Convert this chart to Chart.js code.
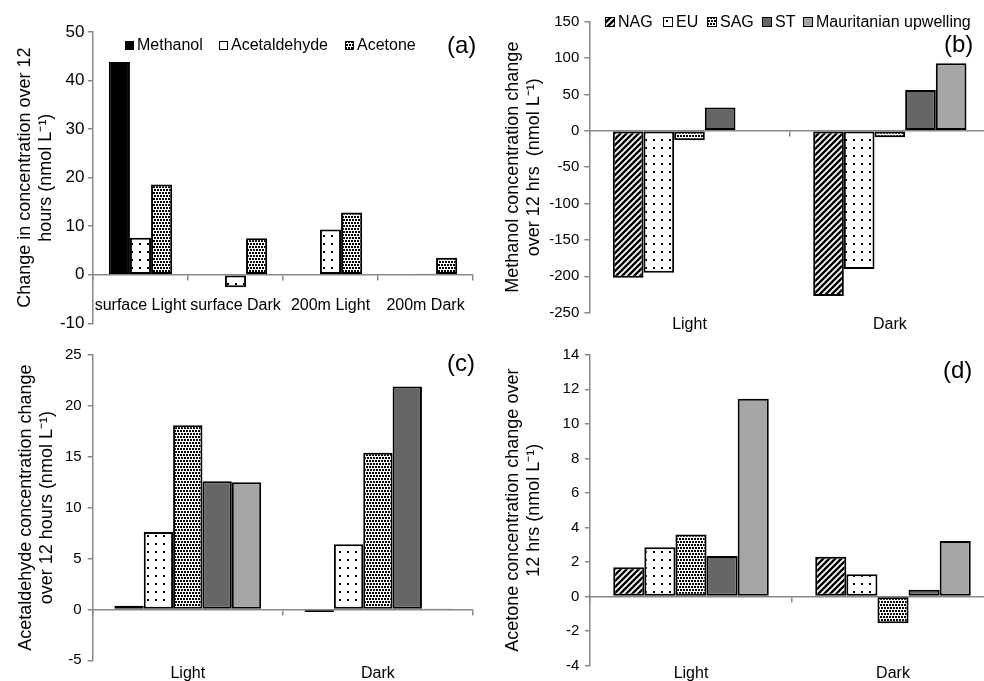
<!DOCTYPE html>
<html>
<head>
<meta charset="utf-8">
<script src="https://cdn.jsdelivr.net/npm/chart.js@4.4.0/dist/chart.umd.min.js"></script>
<style>
html, body { margin: 0; padding: 0; background: #fff; overflow: hidden; }
#page { position: relative; width: 984px; height: 681px; overflow: hidden; font-family: "Liberation Sans", Arial, sans-serif; }
#page canvas { position: absolute; }
.lg { position: absolute; font-size: 16px; line-height: 18px; height: 18px; white-space: nowrap; color: #000; }
.tag { position: absolute; font-size: 24px; line-height: 28px; color: #000; }
</style>
</head>
<body>
<div id="page">
  <canvas id="chartA" width="490" height="340" style="left:0;top:0"></canvas>
  <canvas id="chartB" width="510" height="340" style="left:490px;top:0"></canvas>
  <canvas id="chartC" width="490" height="341" style="left:0;top:340px"></canvas>
  <canvas id="chartD" width="510" height="341" style="left:490px;top:340px"></canvas>
</div>
<script>
// panel (a)
const depthCategories = ["surface Light", "surface Dark", "200m Light", "200m Dark"];
const methanolDepth = [43.8, 0, 0, 0];
const acetaldehydeDepth = [7.6, -2.6, 9.3, 0.2];
const acetoneDepth = [18.6, 7.5, 12.8, 3.5];

// panels (b)-(d), values per site in order NAG, EU, SAG, ST, Mauritanian upwelling
const lightDark = ["Light", "Dark"];
const sites = ["NAG", "EU", "SAG", "ST", "Mauritanian upwelling"];
const methanolLight = [-202, -195, -13, 32, 1];
const methanolDark = [-227, -190, -9, 56, 93];
const acetaldehydeLight = [0.35, 7.6, 18.1, 12.6, 12.5];
const acetaldehydeDark = [-0.25, 6.4, 15.4, 21.9, 0.1];
const acetoneLight = [1.7, 2.85, 3.6, 2.35, 11.45];
const acetoneDark = [2.3, 1.3, -1.55, 0.4, 3.22];

// y axis ranges: [min, max, step]
const yRangeA = [-10, 50, 10];
const yRangeB = [-250, 150, 50];
const yRangeC = [-5, 25, 5];
const yRangeD = [-4, 14, 2];

const FONT = "'Liberation Sans', Arial, sans-serif";
const AXIS_GREY = "#888";

function makePattern(kind) {
    const c = document.createElement("canvas");
    const g = c.getContext("2d");
    if (kind === "hatch") {
        c.width = 6; c.height = 6;
        g.fillStyle = "#fff"; g.fillRect(0, 0, 6, 6);
        g.strokeStyle = "#000"; g.lineWidth = 2.4;
        g.beginPath();
        g.moveTo(-1, 7); g.lineTo(7, -1);
        g.moveTo(-2, 2); g.lineTo(2, -2);
        g.moveTo(4, 8); g.lineTo(8, 4);
        g.stroke();
    } else if (kind === "sparse") {
        c.width = 8; c.height = 8;
        g.fillStyle = "#fff"; g.fillRect(0, 0, 8, 8);
        g.fillStyle = "#000"; g.fillRect(3, 3, 2, 2);
    } else {
        c.width = 6; c.height = 6;
        g.fillStyle = "#fff"; g.fillRect(0, 0, 6, 6);
        g.fillStyle = "#000";
        g.fillRect(0, 0, 2, 2); g.fillRect(3, 0, 2, 2);
        g.fillRect(1, 3, 2, 2); g.fillRect(4, 3, 2, 2);
    }
    return g.createPattern(c, "repeat");
}

const hatch = makePattern("hatch");
const sparseDots = makePattern("sparse");
const denseDots = makePattern("dense");
const siteFills = [hatch, sparseDots, denseDots, "#666666", "#a6a6a6"];

function siteDatasets(light, dark) {
    return sites.map((s, i) => ({
        label: s,
        data: [light[i], dark[i]],
        backgroundColor: siteFills[i]
    }));
}

function buildChart(id, labels, datasets, cfg) {
    const scales = {};
    if (cfg.zeroLabels) {
        scales.x = {
            type: "category",
            position: { y: 0 },
            offset: true,
            grid: { offset: true, drawOnChartArea: false, tickLength: 5, color: AXIS_GREY, lineWidth: 1.5 },
            border: { color: AXIS_GREY, width: 1.5 },
            ticks: { color: "#000", font: { size: 16, family: FONT }, padding: cfg.labelPad, maxRotation: 0, autoSkip: false }
        };
    } else {
        scales.x = {
            type: "category",
            position: "bottom",
            offset: true,
            grid: { display: false, drawTicks: false },
            border: { display: false },
            ticks: { color: "#000", font: { size: 16, family: FONT }, padding: cfg.labelPad, maxRotation: 0, autoSkip: false },
            afterFit: s => { s.height = cfg.xHeight; }
        };
        scales.x2 = {
            type: "category",
            axis: "x",
            position: { y: 0 },
            offset: true,
            grid: { offset: true, drawOnChartArea: false, tickLength: 5, color: AXIS_GREY, lineWidth: 1.5 },
            border: { color: AXIS_GREY, width: 1.5 },
            ticks: { display: false }
        };
    }
    scales.y = {
        type: "linear",
        position: "left",
        min: cfg.range[0],
        max: cfg.range[1],
        ticks: { stepSize: cfg.range[2], color: "#000", font: { size: cfg.tickSize, family: FONT }, padding: cfg.tickPad },
        grid: { drawOnChartArea: false, tickLength: 5, color: AXIS_GREY, lineWidth: 1.5 },
        border: { color: AXIS_GREY, width: 1.5 },
        title: {
            display: true,
            text: cfg.title,
            color: "#000",
            font: { size: 18, family: FONT, lineHeight: 1.15 },
            padding: { top: cfg.titlePad, bottom: 0 }
        },
        afterFit: s => { s.width = cfg.yWidth; }
    };

    return new Chart(document.getElementById(id), {
        type: "bar",
        data: { labels: labels, datasets: datasets },
        options: {
            responsive: false,
            animation: false,
            layout: { padding: cfg.pad },
            datasets: {
                bar: {
                    xAxisID: "x",
                    barPercentage: 1,
                    categoryPercentage: cfg.catPct,
                    borderColor: "#000",
                    borderWidth: 2,
                    borderSkipped: false
                }
            },
            plugins: { legend: { display: false }, tooltip: { enabled: false } },
            scales: scales
        }
    });
}

buildChart("chartA", depthCategories, [
    { label: "Methanol", data: methanolDepth, backgroundColor: "#000" },
    { label: "Acetaldehyde", data: acetaldehydeDepth, backgroundColor: sparseDots },
    { label: "Acetone", data: acetoneDepth, backgroundColor: denseDots }
], {
    zeroLabels: true, labelPad: 16.4, range: yRangeA, tickSize: 17, tickPad: 3.5,
    title: ["Change in concentration over 12", "hours (nmol L\u207B\u00B9)"], titlePad: 14.5,
    yWidth: 93, pad: { top: 32, right: 17, bottom: 16.7, left: 0 }, catPct: 0.667
});

buildChart("chartB", lightDark, siteDatasets(methanolLight, methanolDark), {
    zeroLabels: false, labelPad: 2.7, xHeight: 27.3, range: yRangeB, tickSize: 15, tickPad: 5,
    title: ["Methanol concentration change", "over 12 hrs  (nmol L\u207B\u00B9)"], titlePad: 12.5,
    yWidth: 99.3, pad: { top: 21.7, right: 10, bottom: 0, left: 0 }, catPct: 0.765
});

buildChart("chartC", lightDark, siteDatasets(acetaldehydeLight, acetaldehydeDark), {
    zeroLabels: false, labelPad: 3.4, xHeight: 20.7, range: yRangeC, tickSize: 15, tickPad: 6,
    title: ["Acetaldehyde concentration change", "over 12 hours (nmol L\u207B\u00B9)"], titlePad: 15.6,
    yWidth: 92.7, pad: { top: 15, right: 17, bottom: 0, left: 0 }, catPct: 0.772
});

buildChart("chartD", lightDark, siteDatasets(acetoneLight, acetoneDark), {
    zeroLabels: false, labelPad: -2, xHeight: 15.3, range: yRangeD, tickSize: 15, tickPad: 5.7,
    title: ["Acetone concentration change over", "12 hrs (nmol L\u207B\u00B9)"], titlePad: 12.6,
    yWidth: 100, pad: { top: 9, right: 6, bottom: 0, left: 0 }, catPct: 0.77
});

// legends and panel letters
const page = document.getElementById("page");

function legendItem(x, yc, size, fill, text) {
    const sw = document.createElement("canvas");
    sw.width = size; sw.height = size;
    sw.style.left = x + "px";
    sw.style.top = (yc - size / 2) + "px";
    const g = sw.getContext("2d");
    g.fillStyle = fill; g.fillRect(0, 0, size, size);
    g.strokeStyle = "#000"; g.lineWidth = 1; g.strokeRect(0.5, 0.5, size - 1, size - 1);
    page.appendChild(sw);
    const t = document.createElement("div");
    t.className = "lg";
    t.textContent = text;
    t.style.left = (x + size + 3) + "px";
    t.style.top = (yc - 9) + "px";
    page.appendChild(t);
}

function tag(x, yc, text) {
    const d = document.createElement("div");
    d.className = "tag";
    d.textContent = text;
    d.style.left = x + "px";
    d.style.top = (yc - 14) + "px";
    page.appendChild(d);
}

legendItem(125, 45, 9, "#000", "Methanol");
legendItem(219, 45, 9, "#fff", "Acetaldehyde");
legendItem(345, 45, 9, denseDots, "Acetone");

const legendXB = [605, 663, 707, 762, 803];
sites.forEach((s, i) => legendItem(legendXB[i], 22, 10, siteFills[i], s));

tag(447, 45, "(a)");
tag(944, 43.5, "(b)");
tag(447, 363, "(c)");
tag(943, 370, "(d)");
</script>
</body>
</html>
